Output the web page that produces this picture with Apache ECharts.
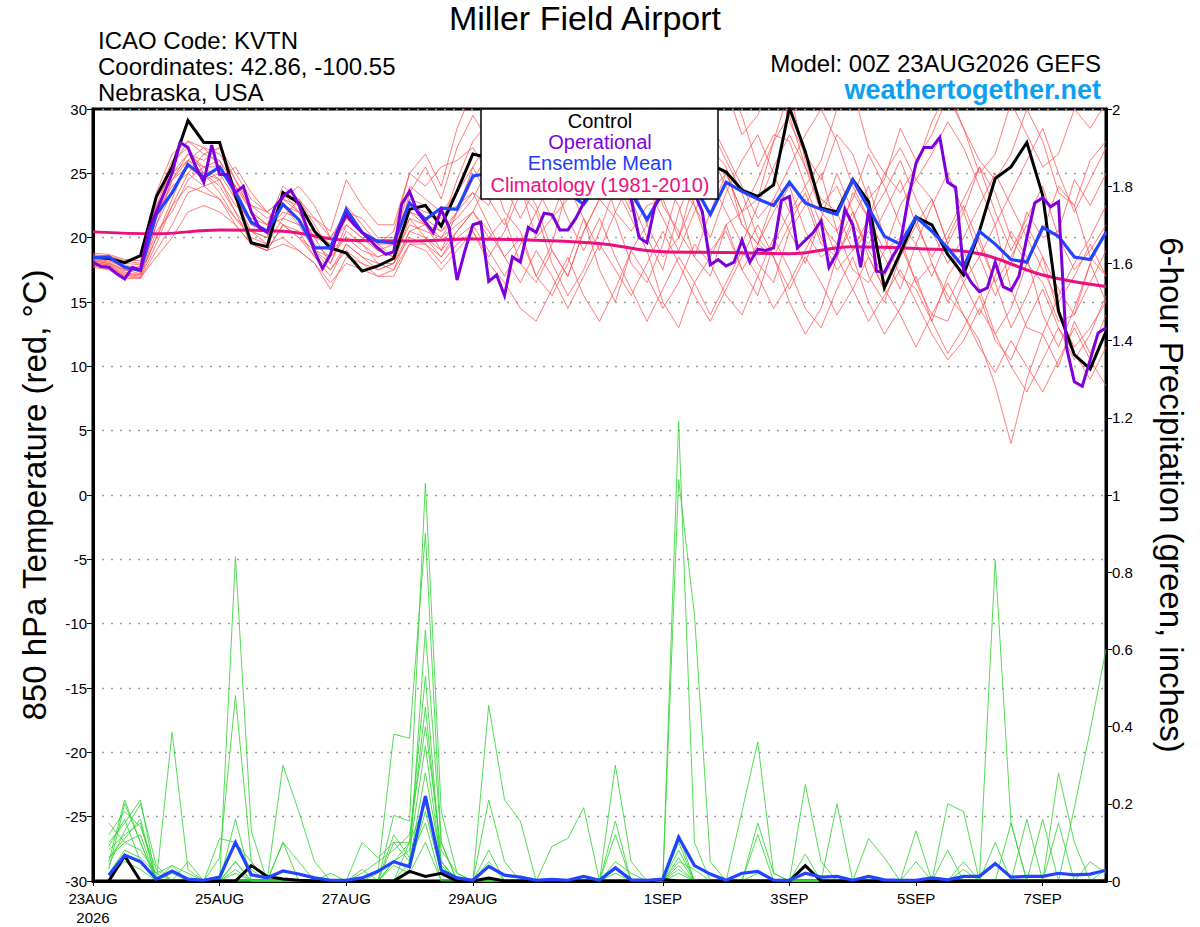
<!DOCTYPE html>
<html><head><meta charset="utf-8">
<script src="https://cdn.jsdelivr.net/npm/echarts@6/dist/echarts.min.js"></script>
<style>html,body{margin:0;padding:0;background:#fff;}#c{width:1200px;height:927px;}</style>
</head><body><div id="c"></div>
<script>
const FONT = '"Liberation Sans", Arial, Helvetica, sans-serif';

// x axis: hours since 00Z 23AUG2026
const xTickHours = [0, 48, 96, 144, 216, 264, 312, 360];
const xTickLabels = ['23AUG\n2026', '25AUG', '27AUG', '29AUG', '1SEP', '3SEP', '5SEP', '7SEP'];

// 850 hPa temperature (°C), 6-hourly from 0h
const controlTemp = [18.45,18.4,18.06,18.6,23.2,25.5,29.1,27.4,27.4,23.3,19.6,19.3,23.5,22.7,20.5,19.2,18.8,17.4,17.8,18.4,22.2,22.5,20.9,23.6,26.5,26.2,26.5,27.0,26.5,26.0,27.0,26.5,27.0,26.5,26.0,25.5,26.5,27.0,26.5,25.7,25.1,23.7,23.2,24.1,30.1,26.7,22.3,22.0,24.5,22.8,16.1,18.8,21.6,21.0,18.7,17.1,20.5,24.6,25.5,27.4,23.3,14.3,10.9,9.8,12.7];
const meanTemp = [18.45,18.5,17.7,17.45,21.8,23.5,25.7,24.7,25.5,23.5,21.2,20.5,22.6,21.4,19.2,19.2,22.2,20.4,19.7,19.6,22.7,21.4,22.3,22.2,24.8,25.0,24.5,24.0,24.0,23.5,23.5,22.6,24.3,24.5,23.5,21.4,23.5,24.0,24.0,21.8,24.3,23.6,23.0,22.5,24.3,22.7,22.2,21.8,24.5,22.3,20.1,19.5,21.6,20.5,19.2,17.7,20.5,19.5,18.3,18.1,20.8,20.1,18.5,18.3,20.4];
// operational, 3-hourly from 0h
const operationalTemp = [18.1,17.75,17.7,17.2,16.8,17.7,17.5,20.5,22.0,23.5,
25.0,27.4,27.0,25.5,24.3,27.2,24.9,24.9,23.5,24.0,
22.0,20.8,20.4,22.4,23.2,23.7,22.6,20.8,18.9,17.6,
18.7,20.5,21.8,21.0,20.4,19.8,19.2,18.7,18.9,22.6,
23.6,22.0,21.2,20.4,22.2,20.8,16.7,19.0,21.0,21.2,
16.6,17.1,15.5,18.5,18.1,20.8,20.4,21.9,21.8,20.6,
20.6,21.5,22.7,24.5,25.5,25.0,24.0,24.5,23.0,20.0,
19.6,22.5,23.5,24.0,24.5,24.0,23.5,22.0,17.9,18.3,
17.8,18.1,19.8,18.1,19.1,19.0,19.2,22.9,23.2,19.2,
19.8,20.4,21.3,17.7,18.8,22.2,21.0,17.7,22.2,17.4,
17.3,18.5,19.5,23.0,25.8,27.0,27.0,27.8,24.3,23.9,
17.5,16.5,15.8,16.1,18.1,16.2,15.9,17.0,20.0,22.7,
23.1,22.4,22.8,11.5,8.8,8.45,10.5,12.6,13.0];
// climatology 1981-2010, daily from 0h
const climatology = [20.45,20.3,20.6,20.5,19.8,19.75,19.9,19.8,19.55,18.9,18.85,18.75,19.3,19.15,18.75,17.1,16.2];

// ensemble members, 850 hPa temperature, 6-hourly from 0h
const m01T = [18.6,18.4,17.9,17.5,22.5,25.5,27.5,26.5,26.0,23.0,20.5,20.0,23.5,22.0,19.5,18.5,22.5,21.0,19.5,18.5,23.5,25.5,23.0,27.0,29.5,27.5,26.0,28.5,24.0,21.5,23.0,25.5,27.0,24.5,22.0,26.0,28.5,30.5,27.0,23.5,25.0,22.0,24.5,27.5,31.5,26.0,22.5,24.0,21.0,19.5,22.0,24.5,21.0,18.5,20.5,23.0,25.5,22.0,19.0,21.5,24.0,20.0,17.5,19.0,21.0];
const m02T = [18.0,17.8,17.2,17.0,20.0,23.0,26.0,27.0,25.5,24.0,22.0,21.0,21.5,23.0,21.0,19.0,20.0,19.5,18.0,17.5,20.5,21.0,19.0,22.0,23.5,21.0,18.5,20.0,17.0,15.5,18.0,21.5,19.0,22.0,24.5,21.0,18.5,20.0,23.0,26.5,24.0,21.0,19.5,23.0,20.5,18.0,21.5,25.0,22.0,18.5,16.0,19.0,21.5,18.0,15.0,17.5,20.0,16.5,13.0,15.5,18.5,14.0,11.5,13.0,15.0];
const m03T = [18.2,18.0,17.4,17.8,23.0,26.0,27.0,25.0,24.5,22.0,19.5,19.0,21.0,20.5,18.5,17.0,19.5,18.5,17.5,18.0,21.5,20.0,18.5,20.5,22.0,24.5,27.0,29.0,31.0,28.0,25.5,23.0,26.0,28.5,30.0,27.5,24.0,26.0,22.5,20.0,23.5,26.0,28.0,25.0,22.0,24.0,21.0,19.5,22.0,19.0,17.0,19.5,16.5,18.0,15.5,14.0,12.0,8.5,4.0,9.0,12.5,10.0,13.5,11.0,14.0];
const m04T = [18.4,18.3,17.8,17.3,21.0,24.5,26.5,26.0,27.0,24.5,22.5,21.5,22.5,21.0,20.5,19.5,21.0,20.0,19.0,19.5,24.0,23.0,22.0,23.5,25.5,23.0,21.0,24.5,22.5,19.0,17.0,20.5,23.0,25.5,23.0,20.0,17.5,22.0,25.0,28.5,26.0,23.5,20.0,18.5,21.0,23.5,20.0,17.5,19.0,21.5,25.0,27.0,24.5,26.5,29.0,27.0,24.0,21.0,23.5,26.0,28.5,25.0,22.0,24.5,27.0];
const m05T = [17.8,17.6,17.0,16.8,19.0,21.0,23.5,24.0,23.0,21.5,20.0,19.5,20.0,19.0,18.0,16.5,18.0,17.5,17.0,17.0,19.5,19.0,17.5,19.0,20.5,18.0,16.5,14.5,13.5,16.0,18.5,15.5,13.5,16.0,19.0,17.0,14.5,16.5,19.5,18.0,15.5,14.0,17.0,20.0,17.5,14.5,13.0,16.0,18.5,15.0,12.5,14.5,17.0,13.5,11.0,13.0,15.5,12.0,10.5,13.5,16.0,13.0,10.5,12.5,15.5];
const m06T = [18.5,18.6,18.2,18.0,22.0,24.0,25.0,24.0,24.5,25.5,23.5,22.0,23.0,24.0,22.5,20.0,21.5,20.5,19.5,20.5,25.0,26.5,24.0,28.5,31.5,30.5,27.5,26.0,29.5,31.5,27.5,25.0,25.5,28.0,29.0,31.5,27.0,24.0,28.0,30.0,32.0,29.5,25.5,28.0,27.5,24.0,26.0,30.0,31.5,27.0,25.0,23.5,25.5,29.0,31.5,28.5,26.0,24.5,26.5,30.0,27.5,23.5,22.5,26.0,27.5];
const m07T = [18.1,17.9,17.3,17.1,20.5,22.0,24.5,25.5,26.0,24.0,21.0,20.5,22.0,21.5,19.0,18.5,20.0,19.0,18.5,19.0,22.0,21.0,20.5,21.5,23.0,25.5,22.0,20.5,17.0,19.5,24.0,21.5,17.5,15.0,19.0,21.0,24.5,22.5,18.5,17.0,21.0,22.0,18.0,16.5,20.5,22.5,25.0,20.5,17.5,16.5,19.0,20.0,16.5,14.0,13.5,16.5,18.5,21.0,16.0,13.0,12.5,15.5,18.0,20.0,22.5];
const m08T = [18.3,18.1,17.5,17.6,22.0,25.0,26.0,25.5,24.5,22.5,21.5,21.0,24.0,23.0,21.5,20.0,22.0,21.5,20.0,20.0,23.0,22.5,21.0,24.5,27.5,29.0,31.0,28.0,26.5,29.5,31.0,29.0,26.0,23.5,26.0,24.0,21.5,19.0,22.0,24.5,22.0,19.5,22.5,25.5,28.0,25.5,22.0,20.5,23.0,26.5,24.0,21.0,19.5,17.0,20.0,22.5,19.5,16.5,18.5,21.0,18.5,16.0,14.0,16.5,19.0];
const m09T = [18.7,18.5,18.0,17.9,23.5,26.5,27.5,27.0,26.5,24.5,22.0,21.0,22.5,22.0,20.0,19.5,21.5,20.5,19.0,18.5,21.0,20.5,20.0,22.0,24.5,26.5,24.0,21.5,24.0,26.5,28.0,30.5,28.5,25.0,22.5,24.5,27.0,29.5,32.0,29.0,26.5,24.0,21.5,23.0,25.5,28.0,30.0,27.5,24.0,21.5,23.5,26.0,23.0,20.5,18.0,20.0,22.5,25.0,22.5,20.0,17.5,15.0,17.0,19.5,17.0];
const m10T = [17.9,17.7,17.1,16.9,19.5,22.5,25.0,26.5,27.0,25.0,23.0,22.0,21.0,20.0,19.0,17.5,19.0,18.0,17.5,18.0,20.0,19.5,18.5,20.0,21.0,19.0,17.0,19.5,22.0,24.5,21.5,19.0,21.5,18.5,16.0,13.5,16.0,18.5,16.5,14.0,16.5,19.0,17.0,14.5,16.5,19.0,21.5,18.5,16.0,13.5,15.5,17.5,15.0,12.5,10.5,12.0,14.5,12.5,10.0,8.0,10.5,13.0,11.0,9.0,11.5];
const m11T = [18.5,18.3,17.6,17.4,21.5,24.5,25.5,24.5,25.0,23.0,21.0,20.5,23.0,22.5,20.5,19.0,21.5,20.5,19.5,19.5,22.5,22.0,21.5,22.5,23.5,22.5,25.5,24.0,20.0,21.5,25.0,27.5,26.0,22.0,20.5,22.5,23.0,20.0,24.5,27.0,25.5,21.0,19.5,22.0,24.0,20.5,18.5,19.5,23.5,21.5,19.0,22.5,24.5,23.0,19.5,22.0,25.5,23.5,20.0,18.0,20.5,24.0,22.5,18.5,17.0];
const m12T = [18.2,18.0,17.5,17.2,21.0,23.5,25.5,25.0,24.0,22.0,20.5,20.0,22.5,21.5,20.0,18.0,20.5,19.5,18.5,19.0,21.5,21.0,20.0,21.0,22.0,20.0,21.5,18.0,16.5,19.0,17.0,20.5,23.0,21.5,18.0,16.5,19.5,24.0,22.5,19.0,20.5,17.5,15.5,19.5,22.0,23.0,19.5,18.5,21.5,24.0,20.0,17.0,16.0,13.5,17.0,19.0,16.0,12.5,14.5,18.0,16.5,13.5,14.0,18.0,20.5];
const m13T = [18.8,18.7,18.3,18.2,23.0,25.0,26.5,25.5,25.5,24.0,22.5,22.0,23.0,22.0,21.5,20.5,24.5,22.5,21.0,21.0,25.0,24.0,25.5,26.0,27.0,25.0,28.0,30.5,29.0,25.5,26.0,29.5,32.0,30.0,27.5,29.0,26.0,24.0,27.0,30.5,31.5,28.0,29.5,33.0,29.0,26.5,24.5,28.0,26.5,23.0,24.5,28.5,26.0,28.0,31.0,28.5,25.0,26.5,30.5,28.0,25.5,26.5,30.0,28.5,30.5];
const m14T = [18.0,17.9,17.0,17.2,20.0,22.5,24.0,23.5,23.0,21.0,19.5,19.0,21.0,20.0,18.5,17.5,19.5,18.5,18.0,18.0,20.5,20.0,19.0,20.5,22.0,20.5,18.5,16.5,19.0,17.0,14.5,17.0,19.5,17.5,15.5,18.0,20.5,18.0,15.5,13.5,16.0,18.5,21.0,18.5,16.0,18.5,16.5,14.0,16.0,18.5,16.0,14.0,11.5,14.0,16.5,14.0,11.5,9.5,12.0,10.0,8.0,10.5,13.0,10.5,8.5];
const m15T = [18.3,18.2,17.7,17.4,22.5,24.5,26.0,25.0,23.5,21.5,20.5,19.5,21.5,21.0,19.0,18.0,21.0,20.0,19.0,18.5,22.0,21.5,20.5,22.0,25.5,27.5,29.5,27.0,23.5,25.0,28.5,27.5,23.0,25.5,29.0,27.0,22.5,20.5,18.5,22.0,25.0,22.0,23.0,27.5,29.5,25.5,23.0,22.0,19.0,20.5,18.5,16.0,19.5,22.5,25.0,22.0,18.5,15.5,18.0,22.0,20.0,20.5,24.5,22.5,25.0];
const m16T = [17.7,17.5,16.8,16.9,18.5,20.0,22.0,22.5,22.0,21.0,19.5,19.0,19.5,19.0,18.0,16.0,18.5,18.0,17.0,17.5,19.5,19.5,18.0,19.5,20.5,18.5,20.5,23.5,22.0,18.0,15.5,17.5,20.5,24.0,21.5,19.0,15.0,13.0,16.5,18.5,21.0,17.5,19.5,18.5,15.0,12.5,14.5,18.5,21.0,17.0,15.0,18.5,21.0,23.0,19.5,16.5,14.0,17.0,20.5,18.5,14.0,11.5,14.5,18.0,15.0];

// 6-hour precipitation (inches), 6-hourly from 6h
const controlPrecip = [0,0.065,0,0,0,0,0,0, 0,0.04,0.012,0.005,0.002,0,0,0, 0,0,0,0.025,0.012,0.02,0,0, 0.008,0,0,0,0,0,0,0, 0,0,0,0.004,0,0,0,0, 0,0,0,0,0.04,0,0,0, 0,0,0,0,0,0,0,0, 0,0,0,0,0,0,0,0];
const meanPrecip = [0.015,0.067,0.05,0.005,0.026,0.005,0.002,0.01, 0.10,0.016,0.008,0.026,0.018,0.008,0.002,0.002, 0.008,0.025,0.05,0.037,0.22,0.028,0.008,0.002, 0.038,0.015,0.01,0.002,0.004,0.002,0.012,0.002, 0.034,0.003,0.002,0.005,0.113,0.04,0.018,0.002, 0.02,0.025,0.002,0.002,0.02,0.01,0.012,0.002, 0.012,0.003,0.002,0.002,0.008,0.003,0.012,0.012, 0.045,0.01,0.012,0.012,0.02,0.016,0.018,0.028];
const m01P = [0.05,0.21,0.1,0,0.04,0.02,0,0, 0.84,0.13,0,0,0,0,0,0, 0,0,0.05,0.1,0.2,0.05,0,0, 0,0,0,0,0,0,0,0, 0.02,0,0,0,1.19,0.1,0,0, 0,0.02,0,0,0,0,0,0, 0,0,0,0,0,0,0.03,0, 0.1,0,0,0,0,0,0,0];
const m02P = [0.1,0.15,0.21,0,0,0,0,0.06, 0.48,0.05,0,0,0,0,0,0, 0,0.02,0.38,0.37,0.9,0.1,0,0, 0,0,0,0,0,0,0,0, 0,0,0,0,1.04,0.69,0.05,0, 0,0,0,0,0.07,0,0,0, 0,0,0,0,0,0,0,0, 0.83,0.15,0,0,0,0,0,0];
const m03P = [0.08,0.12,0.15,0,0.385,0.03,0,0, 0.16,0,0,0.3,0.18,0.05,0,0, 0,0,0.17,0.155,1.03,0.18,0.02,0, 0.08,0,0,0,0,0,0,0, 0.3,0.05,0,0,0.1,0,0,0, 0,0,0,0,0.25,0.05,0,0, 0,0,0,0.13,0,0,0,0, 0,0,0.16,0,0,0,0,0];
const m04P = [0.15,0.1,0.08,0.02,0.04,0,0,0.11, 0.1,0.05,0,0.1,0,0,0,0, 0.1,0.06,0.1,0.05,0.65,0.1,0,0, 0.455,0.21,0.155,0,0,0,0,0, 0,0,0,0,0.05,0.03,0,0, 0.18,0.36,0.02,0,0,0,0,0, 0.11,0.06,0,0,0,0.2,0.18,0, 0,0,0,0,0.28,0.1,0,0];
const m05P = [0.12,0.18,0.14,0.03,0,0,0,0, 0.05,0,0,0,0,0,0.02,0, 0.03,0,0,0.1,0.53,0.03,0,0, 0.21,0.05,0,0,0.09,0.11,0.19,0, 0.155,0,0,0,0,0,0,0, 0,0.12,0,0,0,0,0.2,0, 0,0,0,0,0,0.08,0,0, 0,0.15,0,0,0,0,0,0];
const m06P = [0.06,0.1,0.12,0,0,0,0,0, 0,0,0,0.1,0.05,0,0,0, 0,0,0.1,0.1,0.45,0.05,0,0, 0,0,0,0,0,0,0,0, 0.12,0,0,0,0,0,0,0, 0,0.15,0.02,0,0,0,0,0, 0,0,0,0,0,0,0,0, 0,0,0,0.16,0,0.19,0.39,0.6];
const m07P = [0.04,0.13,0.2,0.04,0,0,0,0, 0.05,0,0,0,0,0,0,0, 0,0,0.05,0.08,0.35,0.04,0,0, 0,0,0,0,0,0,0,0, 0,0,0,0,0.06,0,0,0, 0,0,0,0,0,0,0,0, 0,0,0,0,0,0,0,0, 0,0,0,0,0.15,0,0,0.03];
const m08P = [0.02,0.08,0.06,0.02,0,0,0,0, 0.02,0,0,0,0,0,0,0, 0,0,0,0.05,0.28,0.05,0,0, 0,0,0,0,0,0,0,0, 0,0,0,0,0.02,0,0,0, 0,0,0,0,0,0,0,0, 0,0,0,0.05,0,0,0,0, 0,0,0,0,0,0,0,0];
const m09P = [0.09,0.16,0.05,0,0.02,0,0,0, 0,0,0,0,0,0,0,0, 0,0,0.12,0.06,0.15,0,0,0, 0,0,0,0,0,0,0,0, 0,0,0,0,0.04,0,0,0, 0,0,0,0,0,0,0,0, 0,0,0,0,0,0,0,0, 0,0,0,0,0,0,0.05,0.02];
const m10P = [0.03,0.2,0.1,0,0,0.05,0,0, 0,0,0,0,0,0,0,0, 0.02,0.05,0.08,0.12,0.4,0.08,0.02,0, 0.05,0,0,0,0,0,0,0, 0,0,0,0,0.12,0,0,0, 0,0,0,0,0,0,0,0, 0,0,0,0,0,0,0.05,0, 0,0,0,0,0,0,0,0];
const m11P = [0.01,0.05,0.03,0,0,0,0,0, 0.1,0.03,0,0,0,0,0,0, 0,0,0.04,0.02,0.1,0,0,0, 0,0,0,0,0,0,0,0, 0,0,0,0,0.03,0,0,0, 0,0,0,0,0,0,0,0, 0,0,0,0,0,0,0,0, 0,0,0,0,0,0,0,0];
const m12P = [0.06,0.11,0.16,0,0,0,0,0, 0.03,0,0,0,0,0,0,0, 0,0,0,0.03,0.18,0.02,0,0, 0,0,0,0,0,0,0,0, 0.05,0.02,0,0,0.08,0,0,0, 0,0,0,0,0,0,0,0, 0,0,0,0,0,0,0,0, 0,0,0,0,0,0,0,0];

const tempMembers = [m01T,m02T,m03T,m04T,m05T,m06T,m07T,m08T,m09T,m10T,m11T,m12T,m13T,m14T,m15T,m16T];
const precipMembers = [m01P,m02P,m03P,m04P,m05P,m06P,m07P,m08P,m09P,m10P,m11P,m12P];

const COL_RED = '#ff5252', COL_GREEN = '#35d535', COL_OP = '#7d00dc', COL_MEAN = '#2145ff', COL_CLIM = '#ec0f80';

function lineSeries(data, axis, color, width, z, smooth) {
  return { type: 'line', data: data, yAxisIndex: axis, showSymbol: false, symbol: 'none', silent: true,
    smooth: smooth || false, lineStyle: { color: color, width: width, join: 'miter' }, z: z, clip: true, animation: false };
}
const at = (arr, step, offset) => arr.map((v, i) => [(i + offset) * step, v]);

const series = [];
tempMembers.forEach(a => series.push(lineSeries(at(a, 6, 0), 0, COL_RED, 0.75, 2)));
precipMembers.forEach(a => series.push(lineSeries(at(a, 6, 1), 1, COL_GREEN, 0.85, 2)));
series.push(lineSeries(at(climatology, 24, 0), 0, COL_CLIM, 3, 3, 0.4));
series.push(lineSeries(at(controlPrecip, 6, 1), 1, '#000', 3, 4));
series.push(lineSeries(at(meanPrecip, 6, 1), 1, COL_MEAN, 3.2, 4));
series.push(lineSeries(at(controlTemp, 6, 0), 0, '#000', 3, 4));
series.push(lineSeries(at(meanTemp, 6, 0), 0, COL_MEAN, 3.2, 4));
series.push(lineSeries(at(operationalTemp, 3, 0), 0, COL_OP, 3, 4));

function txt(text, x, y, size, color, align, weight) {
  return { type: 'text', x: x, y: y, z: 200, silent: true,
    style: { text: text, fill: color, font: (weight || 'normal') + ' ' + size + 'px ' + FONT,
      align: align, verticalAlign: 'middle', textAlign: align, textVerticalAlign: 'middle' } };
}

const chart = echarts.init(document.getElementById('c'), null, { renderer: 'svg', width: 1200, height: 927 });
chart.setOption({
  animation: false,
  backgroundColor: '#ffffff',
  textStyle: { fontFamily: FONT },
  grid: { left: 93, right: 94, top: 109, bottom: 44, show: true, borderColor: '#000', borderWidth: 3, backgroundColor: 'transparent' },
  xAxis: {
    type: 'value', min: 0, max: 384,
    axisLine: { show: true, onZero: false, lineStyle: { color: '#000', width: 3 } },
    axisTick: { show: true, customValues: xTickHours, length: 5, lineStyle: { color: '#000', width: 1 } },
    axisLabel: { customValues: xTickHours, color: '#000', fontSize: 15, fontFamily: FONT, margin: 8, lineHeight: 19,
      formatter: v => { const i = xTickHours.indexOf(v); return i >= 0 ? xTickLabels[i] : ''; } },
    splitLine: { show: false }
  },
  yAxis: [
    { type: 'value', min: -30, max: 30, interval: 5, position: 'left',
      axisLine: { show: true, lineStyle: { color: '#000', width: 3 } },
      axisTick: { show: true, length: 6, lineStyle: { color: '#000', width: 1 } },
      axisLabel: { color: '#000', fontSize: 15, fontFamily: FONT, margin: 6 },
      splitLine: { show: true, lineStyle: { color: '#9a9a9a', width: 1.3, type: [2, 7] } },
      name: '850 hPa Temperature (red, °C)', nameLocation: 'middle', nameGap: 42, nameRotate: 90,
      nameTextStyle: { color: '#000', fontSize: 33, fontFamily: FONT } },
    { type: 'value', min: 0, max: 2, interval: 0.2, position: 'right',
      axisLine: { show: true, lineStyle: { color: '#000', width: 3 } },
      axisTick: { show: true, length: 6, lineStyle: { color: '#000', width: 1 } },
      axisLabel: { color: '#000', fontSize: 15, fontFamily: FONT, margin: 6 },
      splitLine: { show: false },
      name: '6-hour Precipitation (green, inches)', nameLocation: 'middle', nameGap: 49, nameRotate: -90,
      nameTextStyle: { color: '#000', fontSize: 33, fontFamily: FONT } }
  ],
  graphic: [
    txt('Miller Field Airport', 585, 18, 34, '#000', 'center'),
    txt('ICAO Code: KVTN', 98, 40, 24, '#000', 'left'),
    txt('Coordinates: 42.86, -100.55', 98, 66, 24, '#000', 'left'),
    txt('Nebraska, USA', 98, 92, 24, '#000', 'left'),
    txt('Model: 00Z 23AUG2026 GEFS', 1101, 63, 24, '#000', 'right'),
    txt('weathertogether.net', 1101, 90, 27, '#0a9ff5', 'right', 'bold'),
    { type: 'rect', z: 150, silent: true, shape: { x: 481, y: 109, width: 237, height: 90 },
      style: { fill: '#fff', stroke: '#000', lineWidth: 1.5 } },
    txt('Control', 600, 121, 20, '#000', 'center'),
    txt('Operational', 600, 142, 20, '#8000e6', 'center'),
    txt('Ensemble Mean', 600, 163, 20, '#1e3cff', 'center'),
    txt('Climatology (1981-2010)', 600, 185, 20, '#ee0f80', 'center')
  ],
  series: series
});
</script>
</body></html>
